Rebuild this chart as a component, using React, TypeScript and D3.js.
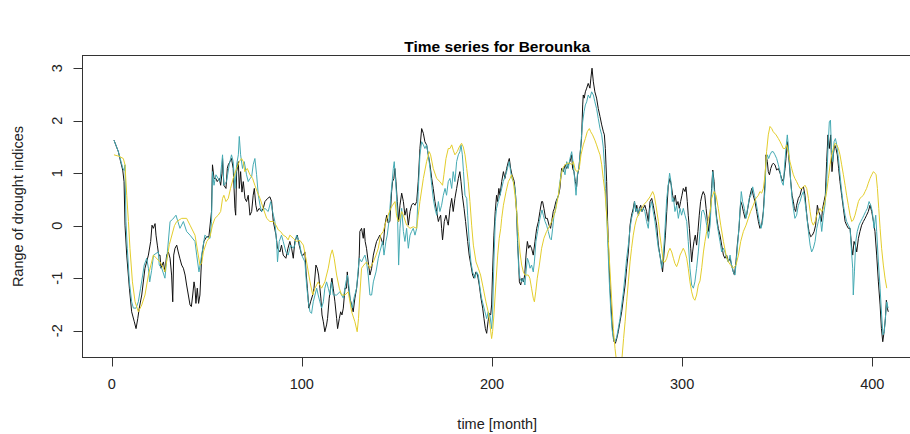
import React from "react";
import * as d3 from "d3";

const TITLE = "Time series for Berounka";
const X_LABEL = "time [month]";
const Y_LABEL = "Range of drought indices";
const X_TICKS = [0, 100, 200, 300, 400];
const Y_TICKS = [-2, -1, 0, 1, 2, 3];

// [month, index value]
const blackSeries: [number, number][] = [
  [1.2, 1.63], [3.5, 1.41], [4.7, 1.22], [5.8, 1.06], [6.5, 0.84], [7.0, 0.01], [7.9, -0.56], [9.3, -1.19],
  [10.5, -1.64], [11.9, -1.83], [12.8, -1.96], [13.7, -1.77], [14.5, -1.57], [15.8, -1.32], [17.5, -0.81],
  [19.3, -0.56], [20.5, -0.3], [21.2, 0.01], [21.9, -0.05], [22.8, 0.04], [23.3, -0.18], [24.0, -0.37],
  [24.7, -0.56], [25.4, -0.56], [25.9, -0.81], [27.2, -0.69], [28.0, -0.88], [28.9, -0.56], [29.8, -0.5],
  [30.7, -0.62], [31.5, -0.94], [32.1, -1.45], [32.6, -0.56], [33.3, -0.43], [34.2, -0.37], [35.0, -0.5],
  [35.9, -0.63], [36.8, -0.75], [37.7, -0.81], [38.6, -0.94], [39.4, -1.13], [40.3, -1.32], [41.2, -1.51],
  [41.9, -1.54], [42.6, -1.32], [43.3, -1.07], [43.8, -1.19], [44.3, -1.48], [45.0, -1.19], [45.7, -1.48],
  [46.4, -1.32], [47.3, -0.6], [48.5, -0.3], [49.9, -0.21], [51.1, -0.21], [52.5, 0.27], [53.0, 1.16],
  [53.8, 0.9], [54.8, 0.9], [55.5, 0.84], [56.6, 0.9], [57.3, 0.77], [58.0, 1.0], [58.3, 1.28], [59.0, 0.77],
  [60.1, 0.71], [60.8, 1.09], [61.3, 1.16], [62.2, 1.22], [63.0, 1.28], [63.9, 1.09], [64.8, 0.33],
  [65.2, 0.2], [65.7, 1.03], [66.6, 1.22], [67.1, 0.71], [67.8, 1.03], [68.5, 0.64], [69.2, 0.84],
  [70.1, 0.52], [70.9, 0.46], [71.8, 0.58], [72.7, 0.2], [73.6, 0.27], [74.4, 0.58], [75.0, 0.71],
  [75.8, 0.39], [76.5, 0.27], [77.6, 0.33], [78.8, 0.27], [79.7, 0.33], [80.6, 0.46], [82.0, 0.52],
  [83.2, 0.55], [84.1, 0.46], [85.0, 0.08], [86.4, -0.18], [87.2, -0.43], [88.5, -0.5], [89.3, -0.37],
  [90.2, -0.56], [91.6, -0.62], [92.7, -0.43], [93.7, -0.3], [94.6, -0.43], [95.5, -0.62], [96.3, -0.3],
  [97.6, -0.18], [98.6, -0.37], [99.9, -0.56], [100.8, -0.56], [101.6, -0.5], [102.2, -0.88], [102.9, -1.19],
  [103.7, -1.57], [104.6, -1.45], [105.7, -1.32], [106.4, -1.19], [107.4, -0.75], [108.1, -0.81],
  [108.8, -0.94], [109.5, -1.19], [110.0, -1.38], [110.6, -1.7], [111.3, -1.83], [112.1, -2.02],
  [113.0, -1.89], [113.5, -1.77], [114.4, -1.38], [115.1, -1.19], [115.8, -1.0], [116.5, -1.19],
  [117.4, -1.45], [118.3, -1.77], [118.8, -1.96], [119.7, -1.77], [120.4, -1.64], [121.1, -1.7],
  [121.8, -1.57], [122.7, -1.19], [123.5, -1.19], [123.9, -0.88], [124.6, -1.19], [125.3, -1.38],
  [126.2, -1.51], [127.0, -1.64], [127.9, -1.38], [128.8, -1.19], [129.7, -0.88], [130.2, -0.56],
  [130.5, -0.11], [131.4, -0.05], [132.3, -0.24], [132.8, -0.05], [133.3, -0.3], [134.0, -0.43],
  [134.9, -0.69], [135.8, -0.94], [136.7, -0.81], [137.6, -0.56], [138.4, -0.43], [139.3, -0.3],
  [140.2, -0.24], [141.0, -0.18], [141.9, -0.27], [142.8, -0.37], [143.7, 0.01], [144.6, 0.2],
  [145.4, 0.05], [146.3, 0.08], [147.2, 0.65], [147.7, 0.84], [148.4, 0.9], [148.9, 1.09], [149.5, 0.84],
  [150.2, 0.46], [150.9, 0.08], [151.6, 0.39], [152.5, 0.62], [153.4, 0.46], [154.2, 0.2], [155.1, 0.33],
  [156.0, 0.01], [156.9, 0.27], [157.7, 0.39], [158.6, 0.43], [159.5, 0.39], [160.4, 0.46], [161.2, 0.84],
  [162.1, 1.47], [163.0, 1.85], [163.9, 1.76], [164.7, 1.6], [165.6, 1.54], [166.5, 1.35], [167.4, 1.16],
  [168.3, 0.9], [169.1, 0.71], [170.0, 0.46], [170.9, 0.27], [171.8, 0.08], [172.3, 0.14], [173.0, 0.2],
  [173.5, -0.05], [174.0, -0.27], [174.9, 0.08], [175.8, 0.2], [176.5, 0.08], [177.0, 0.01], [177.9, 0.33],
  [178.8, 0.52], [179.6, 0.27], [180.5, 0.52], [181.4, 0.71], [182.3, 0.9], [183.1, 1.03], [183.7, 0.84],
  [184.4, 0.58], [185.3, 0.33], [186.1, 0.08], [187.2, -0.3], [188.0, -0.56], [188.9, -0.75], [189.8, -0.94],
  [190.5, -1.0], [191.6, -0.88], [192.4, -0.94], [193.3, -1.13], [194.2, -1.38], [195.1, -1.57],
  [195.8, -1.77], [196.5, -1.96], [197.2, -2.05], [197.9, -1.83], [198.6, -1.67], [199.3, -1.7],
  [199.8, -1.51], [200.3, -0.88], [201.0, -0.18], [201.7, 0.27], [202.4, 0.58], [202.9, 0.46], [203.6, 0.71],
  [204.2, 0.58], [205.1, 0.84], [206.0, 1.03], [206.8, 0.9], [207.7, 1.09], [208.6, 1.22], [209.1, 1.28],
  [209.8, 1.09], [210.5, 0.97], [211.2, 0.9], [211.7, 0.84], [212.4, 0.58], [213.0, 0.2], [213.5, -0.37],
  [214.0, -0.69], [214.4, -1.07], [215.1, -1.13], [215.8, -1.0], [216.5, -1.07], [217.2, -0.94],
  [217.9, -0.56], [218.6, -0.3], [219.3, -0.43], [220.0, -0.37], [220.8, -0.43], [221.7, -0.56],
  [222.6, -0.3], [223.5, -0.05], [224.4, 0.08], [225.2, 0.27], [226.1, 0.46], [226.6, 0.46], [227.3, 0.33],
  [228.2, 0.14], [229.1, 0.14], [230.0, 0.01], [230.8, -0.05], [231.4, 0.08], [232.2, 0.27], [232.8, 0.33],
  [233.6, 0.46], [234.3, 0.52], [235.0, 0.58], [235.7, 0.71], [236.6, 1.09], [237.5, 1.03], [238.4, 1.16],
  [239.3, 1.09], [240.1, 1.16], [241.0, 1.22], [241.9, 1.35], [242.4, 1.09], [243.1, 1.03], [243.8, 0.84],
  [244.5, 0.74], [245.0, 0.97], [245.7, 1.09], [246.3, 1.35], [247.1, 1.66], [247.7, 2.3], [248.0, 2.49],
  [248.5, 2.43], [249.1, 2.55], [249.8, 2.62], [250.6, 2.71], [251.5, 2.62], [252.0, 2.81], [252.6, 3.0],
  [253.3, 2.74], [254.1, 2.55], [255.0, 2.43], [255.9, 2.23], [256.8, 2.08], [257.7, 1.92], [258.5, 1.8],
  [259.1, 1.73], [259.6, 1.47], [260.3, 0.84], [260.8, 0.08], [261.4, -0.56], [262.1, -1.19], [262.9, -1.7],
  [263.5, -2.02], [264.2, -2.21], [264.9, -2.24], [265.6, -2.15], [266.4, -2.02], [267.3, -1.83],
  [268.2, -1.64], [269.1, -1.38], [270.0, -1.13], [270.8, -0.81], [271.7, -0.5], [272.6, 0.01], [273.4, 0.2],
  [274.3, 0.33], [274.9, 0.46], [275.6, 0.27], [276.1, 0.39], [277.0, 0.2], [277.5, 0.33], [278.2, 0.39],
  [278.9, 0.27], [279.6, 0.33], [280.4, 0.39], [281.3, 0.27], [282.2, 0.08], [283.1, 0.46], [284.0, 0.52],
  [284.8, 0.39], [285.7, 0.2], [286.6, 0.01], [287.5, -0.37], [288.3, -0.56], [289.2, -0.75], [289.7, -0.88],
  [290.4, -0.56], [291.2, -0.18], [291.9, 0.27], [292.7, 0.77], [293.6, 0.9], [294.3, 0.77], [295.0, 0.58],
  [295.7, 0.46], [296.4, 0.58], [297.1, 0.39], [297.8, 0.46], [298.5, 0.33], [299.2, 0.46], [299.9, 0.58],
  [300.6, 0.71], [301.5, 0.65], [302.0, 0.74], [302.7, 0.46], [303.2, 0.2], [303.8, -0.05], [304.5, -0.43],
  [305.0, -0.69], [305.5, -0.5], [306.2, -0.3], [306.9, -0.18], [307.6, -0.37], [308.3, -0.11], [309.0, 0.2],
  [309.7, 0.46], [310.4, 0.58], [311.1, 0.65], [311.9, 0.58], [312.6, 0.33], [313.3, 0.08], [314.0, -0.11],
  [314.7, 0.2], [315.5, 0.71], [316.1, 1.06], [316.8, 0.84], [317.5, 0.39], [318.2, 0.14], [319.0, -0.05],
  [319.9, -0.18], [320.8, -0.37], [321.7, -0.56], [322.5, -0.62], [323.4, -0.56], [324.3, -0.69],
  [325.2, -0.62], [326.0, -0.75], [326.9, -0.88], [327.5, -0.94], [328.3, -0.69], [329.0, -0.37],
  [329.9, -0.05], [330.8, 0.46], [331.5, 0.39], [332.2, 0.27], [333.1, 0.14], [333.9, 0.2], [334.8, 0.39],
  [335.7, 0.58], [336.6, 0.71], [337.4, 0.58], [338.3, 0.46], [339.2, 0.27], [340.1, 0.08], [340.9, -0.05],
  [341.8, 0.01], [342.7, 0.27], [343.6, 0.84], [344.1, 1.35], [344.8, 1.22], [345.3, 1.03], [345.9, 0.97],
  [346.6, 1.09], [347.3, 1.16], [347.9, 1.19], [348.8, 1.16], [349.7, 1.06], [350.6, 1.09], [351.5, 1.0],
  [352.3, 0.9], [353.2, 0.84], [354.1, 1.09], [354.6, 1.28], [355.3, 1.6], [355.8, 1.41], [356.4, 1.16],
  [357.1, 0.84], [357.8, 0.58], [358.5, 0.46], [359.0, 0.33], [359.7, 0.27], [360.2, 0.39], [361.1, 0.52],
  [362.0, 0.58], [362.9, 0.71], [363.8, 0.74], [364.6, 0.58], [365.2, 0.33], [365.9, 0.08], [366.7, -0.11],
  [367.6, -0.21], [368.5, -0.18], [369.4, -0.11], [370.2, 0.01], [371.1, 0.39], [371.8, 0.27], [372.5, 0.2],
  [373.2, 0.08], [373.9, 0.33], [374.6, 0.46], [375.3, 0.58], [376.0, 1.22], [376.7, 1.73], [377.4, 1.47],
  [378.1, 1.73], [378.8, 1.03], [379.5, 1.35], [380.2, 1.54], [380.9, 1.47], [381.6, 1.35], [382.3, 1.09],
  [383.0, 0.84], [383.9, 0.58], [384.8, 0.33], [385.7, 0.08], [386.5, 0.01], [387.4, -0.05], [388.3, -0.05],
  [389.2, -0.43], [389.7, -0.56], [390.4, -0.3], [391.1, -0.37], [391.8, -0.5], [392.7, -0.24], [393.5, -0.11],
  [394.4, 0.01], [395.3, 0.08], [396.2, 0.14], [397.0, 0.2], [397.9, 0.27], [398.8, 0.39], [399.7, 0.27],
  [400.6, 0.08], [401.4, -0.11], [402.3, -0.56], [403.2, -1.07], [404.1, -1.51], [404.8, -1.96],
  [405.5, -2.21], [406.2, -2.02], [406.9, -1.77], [407.4, -1.42], [407.9, -1.57], [408.4, -1.64],
];

const tealSeries: [number, number][] = [
  [1.2, 1.63], [3.5, 1.41], [4.7, 1.25], [5.8, 1.1], [6.5, 1.05], [7.0, 1.16], [7.5, 0.08], [8.2, -0.43],
  [9.3, -1.07], [10.5, -1.45], [11.4, -1.57], [12.8, -1.57], [14.0, -1.45], [15.2, -1.19], [16.3, -0.94],
  [17.1, -0.75], [18.4, -0.62], [19.3, -0.81], [20.0, -1.07], [21.0, -0.85], [22.0, -0.56], [24.5, -0.5],
  [25.0, -0.75], [26.3, -0.81], [28.0, -1.0], [29.3, -0.5], [30.7, 0.08], [32.0, 0.12], [33.8, 0.2],
  [35.9, -0.05], [37.7, 0.08], [39.4, -0.11], [41.2, -0.18], [43.8, -0.3], [44.7, -0.56], [45.9, -0.88],
  [47.3, -0.56], [49.0, -0.18], [49.9, -0.21], [51.7, -0.24], [52.5, 0.08], [53.0, 1.03], [53.8, 0.77],
  [54.8, 0.97], [56.0, 0.9], [56.9, 0.84], [57.8, 1.16], [58.3, 1.35], [59.0, 0.77], [60.4, 0.84],
  [61.8, 1.16], [63.0, 1.35], [63.9, 1.22], [64.8, 0.71], [65.7, 1.16], [66.6, 1.35], [67.1, 1.7],
  [67.8, 1.35], [68.8, 1.09], [69.7, 1.22], [70.9, 0.97], [71.8, 0.84], [72.7, 0.9], [73.6, 0.93],
  [74.4, 1.16], [75.3, 1.28], [76.2, 0.97], [77.1, 0.58], [78.0, 0.39], [78.8, 0.27], [80.6, 0.33],
  [82.3, 0.27], [83.6, 0.46], [84.6, 0.27], [85.8, 0.08], [86.7, -0.3], [87.2, -0.69], [88.1, -0.3],
  [89.3, -0.18], [90.2, -0.3], [91.6, -0.5], [92.8, -0.56], [94.1, -0.37], [95.5, -0.43], [96.3, -0.37],
  [97.2, -0.18], [98.6, -0.3], [99.9, -0.56], [101.6, -0.69], [102.5, -1.13], [103.4, -1.45], [104.3, -1.64],
  [105.1, -1.67], [106.0, -1.45], [106.9, -1.32], [107.8, -1.19], [108.6, -1.32], [109.5, -1.45],
  [110.4, -1.57], [111.3, -1.45], [112.1, -1.19], [113.0, -1.07], [113.9, -1.19], [114.8, -1.32],
  [115.6, -1.07], [116.5, -1.32], [118.3, -1.32], [120.0, -1.26], [121.8, -1.38], [123.2, -1.07],
  [124.0, -0.94], [124.9, -1.19], [125.6, -1.45], [126.5, -1.57], [127.4, -1.38], [128.8, -1.19],
  [129.7, -0.81], [130.2, -0.62], [131.4, -0.69], [132.3, -0.62], [133.2, -0.56], [134.0, -0.69],
  [134.9, -0.94], [135.8, -1.32], [136.7, -1.32], [137.6, -1.07], [139.0, -0.88], [140.2, -0.62],
  [141.0, -0.5], [142.5, -0.3], [143.2, -0.56], [144.2, -0.3], [144.9, -0.18], [145.8, 0.08], [146.7, 0.52],
  [147.5, 0.84], [148.1, 1.09], [148.6, 1.22], [149.3, 0.84], [149.8, 0.58], [150.4, 0.08], [150.9, -0.75],
  [151.6, -0.05], [152.5, 0.33], [153.4, -0.11], [154.2, -0.3], [155.1, -0.05], [156.0, -0.43],
  [156.9, -0.18], [157.7, -0.11], [158.6, -0.05], [159.5, -0.18], [160.4, -0.05], [161.2, 0.65],
  [162.1, 1.35], [163.0, 1.6], [163.9, 1.54], [164.7, 1.47], [165.6, 1.54], [166.5, 1.35], [167.4, 1.09],
  [168.3, 0.77], [169.1, 0.52], [170.0, 0.33], [170.9, 0.2], [171.8, 0.46], [172.6, 0.27], [173.5, 0.39],
  [174.4, 0.58], [175.3, 0.71], [176.1, 0.58], [177.0, 0.84], [177.9, 0.9], [178.8, 0.71], [179.6, 1.03],
  [180.5, 0.84], [181.4, 1.22], [182.3, 1.35], [183.1, 1.41], [183.7, 1.54], [184.4, 1.35], [185.0, 1.03],
  [185.8, 0.58], [186.7, 0.52], [187.2, 0.2], [188.0, -0.3], [188.9, -0.69], [189.8, -0.88], [191.0, -1.0],
  [191.9, -0.88], [192.8, -0.94], [193.7, -1.19], [194.5, -1.38], [195.4, -1.51], [196.3, -1.64],
  [197.2, -1.77], [198.0, -1.64], [198.9, -1.7], [199.8, -1.96], [200.3, -1.7], [201.0, -0.69], [201.7, 0.08],
  [202.4, 0.33], [203.3, 0.46], [204.2, 0.58], [205.1, 0.71], [205.9, 0.84], [206.8, 0.93], [207.7, 1.03],
  [208.6, 1.16], [209.1, 1.22], [209.8, 1.03], [210.5, 0.9], [211.2, 0.84], [212.1, 0.71], [213.0, 0.27],
  [213.5, -0.3], [214.0, -0.81], [214.7, -1.0], [215.6, -1.07], [216.5, -1.0], [217.3, -1.13], [217.9, -0.88],
  [218.6, -0.62], [219.3, -0.69], [220.0, -0.81], [220.8, -0.75], [221.7, -0.88], [222.3, -0.69],
  [223.1, -0.3], [224.0, -0.11], [224.9, 0.08], [225.6, 0.2], [226.3, 0.3], [227.0, 0.2], [227.9, 0.08],
  [228.7, 0.01], [229.6, -0.11], [230.5, -0.24], [231.2, -0.27], [231.9, -0.05], [232.6, 0.2], [233.3, 0.27],
  [234.0, 0.46], [234.9, 0.58], [235.7, 0.84], [236.6, 1.03], [237.5, 1.09], [238.4, 0.97], [239.3, 1.22],
  [240.1, 1.09], [241.0, 1.28], [241.9, 1.41], [242.8, 1.16], [243.6, 0.84], [244.2, 0.58], [244.9, 0.97],
  [245.7, 1.09], [246.3, 1.35], [247.1, 1.73], [247.7, 1.98], [248.4, 2.17], [249.1, 2.3], [249.8, 2.36],
  [250.6, 2.49], [251.5, 2.43], [252.4, 2.55], [253.3, 2.49], [254.1, 2.36], [255.0, 2.23], [255.9, 2.04],
  [256.8, 1.85], [257.7, 1.73], [258.5, 1.5], [259.1, 1.16], [259.6, 0.71], [260.3, 0.2], [261.0, -0.43],
  [261.7, -1.07], [262.4, -1.57], [263.1, -1.96], [263.8, -2.15], [264.7, -2.21], [265.6, -2.12],
  [266.4, -1.96], [267.3, -1.77], [268.2, -1.51], [269.1, -1.26], [270.0, -0.94], [270.8, -0.62],
  [271.7, -0.37], [272.6, -0.05], [273.4, 0.14], [274.3, 0.27], [275.0, 0.46], [275.7, 0.27], [276.4, 0.33],
  [277.1, 0.2], [277.8, 0.33], [278.7, 0.27], [279.6, 0.33], [280.4, 0.27], [281.3, 0.08], [282.2, -0.05],
  [283.1, 0.33], [284.0, 0.46], [284.8, 0.27], [285.7, 0.08], [286.6, -0.18], [287.5, -0.43], [288.3, -0.56],
  [289.2, -0.81], [290.1, -0.56], [291.0, -0.05], [291.9, 0.52], [292.7, 0.77], [293.4, 1.0], [294.1, 0.84],
  [294.8, 0.46], [295.5, 0.52], [296.2, 0.27], [297.1, 0.39], [298.0, 0.14], [298.9, 0.33], [299.7, 0.2],
  [300.6, 0.33], [301.5, 0.2], [302.4, 0.08], [303.2, -0.3], [304.1, -0.81], [305.0, -1.13], [305.9, -1.19],
  [306.7, -1.07], [307.6, -0.81], [308.5, -0.5], [309.4, -0.11], [310.3, 0.27], [311.1, 0.3], [312.0, 0.2],
  [312.9, 0.01], [313.8, -0.24], [314.7, 0.01], [315.5, 0.58], [316.1, 1.03], [316.8, 0.71], [317.5, 0.33],
  [318.2, 0.08], [319.0, -0.11], [319.9, -0.3], [320.8, -0.5], [321.7, -0.43], [322.5, -0.5], [323.4, -0.62],
  [324.3, -0.69], [325.2, -0.56], [326.0, -0.75], [326.9, -0.88], [327.8, -0.94], [328.7, -0.56],
  [329.6, -0.18], [330.4, 0.27], [331.1, 0.65], [331.8, 0.46], [332.7, 0.33], [333.6, 0.14], [334.4, 0.33],
  [335.3, 0.52], [336.2, 0.58], [337.1, 0.74], [338.0, 0.58], [338.8, 0.46], [339.7, 0.27], [340.6, 0.08],
  [341.5, -0.05], [342.3, 0.08], [343.0, 0.39], [343.6, 0.71], [344.1, 1.22], [344.8, 1.35], [345.5, 1.28],
  [346.2, 1.35], [347.1, 1.41], [347.9, 1.41], [348.8, 1.35], [349.7, 1.28], [350.6, 1.16], [351.5, 1.03],
  [352.3, 0.84], [353.2, 0.77], [353.9, 1.16], [354.6, 1.47], [355.3, 1.73], [355.8, 1.54], [356.4, 1.22],
  [357.1, 0.84], [357.8, 0.52], [358.5, 0.33], [359.3, 0.14], [360.2, 0.2], [361.1, 0.39], [362.0, 0.46],
  [362.9, 0.58], [363.8, 0.65], [364.6, 0.46], [365.5, 0.2], [366.4, -0.11], [367.3, -0.37], [368.1, -0.5],
  [369.0, -0.43], [369.9, -0.3], [370.8, -0.05], [371.6, 0.08], [372.5, 0.2], [373.4, -0.11], [374.3, 0.2],
  [375.1, 0.39], [376.0, 0.84], [376.7, 1.47], [377.4, 1.98], [378.0, 2.01], [378.5, 1.47], [379.2, 1.22],
  [379.9, 1.6], [380.6, 1.66], [381.3, 1.54], [382.2, 1.28], [383.0, 0.97], [383.9, 0.65], [384.8, 0.39],
  [385.7, 0.2], [386.5, 0.08], [387.4, 0.01], [388.3, -0.05], [389.2, -0.56], [389.7, -0.81], [390.0, -1.32],
  [390.6, -0.88], [391.3, -0.3], [392.1, -0.11], [393.0, 0.01], [393.9, 0.08], [394.8, 0.14], [395.6, 0.2],
  [396.5, 0.27], [397.4, 0.33], [398.3, 0.46], [399.2, 0.39], [400.0, 0.27], [400.9, -0.05], [401.8, 0.2],
  [402.3, -0.11], [403.2, -0.69], [404.1, -1.19], [404.9, -1.7], [405.6, -2.08], [406.3, -2.02],
  [407.0, -1.7], [407.6, -1.45], [408.3, -1.57],
];

const yellowSeries: [number, number][] = [
  [1.2, 1.35], [4.0, 1.32], [6.1, 1.28], [7.0, 1.16], [7.9, 0.58], [8.8, 0.08], [9.6, -0.43], [10.9, -1.07],
  [12.3, -1.45], [14.0, -1.64], [15.8, -1.51], [17.5, -1.32], [19.3, -0.94], [21.9, -0.56], [23.6, -0.62],
  [25.4, -0.69], [27.2, -0.81], [28.0, -0.88], [30.3, -0.36], [33.0, 0.0], [34.2, 0.08], [36.8, 0.14],
  [39.4, 0.14], [41.2, 0.01], [43.8, -0.18], [46.4, -0.75], [47.3, -0.72], [48.2, -0.5], [50.0, -0.3],
  [51.7, -0.21], [53.0, 0.01], [54.3, 0.14], [56.0, 0.2], [57.3, 0.27], [58.3, 0.52], [59.0, 0.58],
  [60.1, 0.46], [61.3, 0.52], [62.5, 0.71], [63.9, 0.9], [65.7, 1.09], [67.1, 1.22], [68.3, 1.28],
  [69.2, 1.22], [70.0, 1.03], [71.3, 1.09], [72.7, 0.97], [74.1, 0.9], [75.3, 0.77], [76.5, 0.65],
  [78.0, 0.52], [79.7, 0.33], [81.5, 0.14], [83.2, 0.08], [85.0, 0.08], [86.4, 0.01], [87.6, -0.08],
  [88.8, -0.11], [90.2, -0.18], [91.6, -0.21], [92.8, -0.27], [93.7, -0.18], [95.5, -0.24], [97.2, -0.3],
  [99.0, -0.28], [100.8, -0.37], [102.5, -0.69], [104.3, -1.07], [105.7, -1.32], [106.9, -1.19],
  [108.6, -1.07], [110.4, -1.19], [112.1, -1.07], [113.9, -0.81], [115.1, -0.56], [116.0, -0.46],
  [117.0, -0.62], [118.3, -0.94], [119.7, -1.19], [120.9, -1.32], [122.7, -1.32], [124.4, -1.26],
  [126.2, -1.64], [127.9, -1.83], [129.1, -2.02], [129.8, -1.77], [130.5, -1.32], [131.4, -0.81],
  [132.6, -0.75], [134.0, -0.69], [135.8, -0.81], [137.6, -0.69], [139.0, -0.56], [140.2, -0.43],
  [141.4, -0.18], [142.8, -0.11], [144.2, 0.08], [145.4, 0.2], [146.7, 0.33], [147.7, 0.39], [149.0, 0.46],
  [149.8, 0.2], [150.7, 0.08], [151.6, 0.14], [152.5, 0.27], [153.4, 0.2], [155.1, 0.01], [156.9, -0.05],
  [158.6, -0.02], [160.4, -0.05], [161.2, 0.2], [162.1, 0.46], [163.9, 0.9], [165.6, 1.22], [167.0, 1.41],
  [167.7, 1.35], [169.1, 1.09], [170.9, 0.9], [172.6, 0.84], [174.0, 0.77], [174.7, 0.97], [175.8, 1.28],
  [177.0, 1.47], [177.9, 1.47], [178.8, 1.54], [179.6, 1.44], [180.5, 1.35], [181.7, 1.41], [182.8, 1.5],
  [184.0, 1.57], [184.9, 1.5], [185.8, 1.35], [186.7, 1.09], [187.5, 0.84], [188.4, 0.46], [189.3, 0.01],
  [190.2, -0.37], [191.6, -0.69], [192.8, -0.81], [194.0, -0.94], [195.4, -1.19], [196.8, -1.45],
  [198.0, -1.64], [198.9, -1.89], [199.8, -2.15], [200.3, -2.02], [201.0, -1.7], [202.1, -1.07],
  [203.0, -0.56], [203.8, -0.24], [204.6, -0.05], [205.1, 0.14], [206.0, 0.39], [207.4, 0.65], [208.6, 0.84],
  [209.5, 0.9], [210.3, 0.97], [211.2, 0.84], [212.1, 0.58], [213.0, 0.27], [213.8, -0.11], [214.7, -0.5],
  [215.6, -0.75], [216.5, -0.88], [217.3, -0.94], [218.2, -0.94], [219.1, -0.94], [219.9, -1.0],
  [220.8, -1.19], [221.7, -1.38], [222.3, -1.45], [223.0, -1.26], [223.8, -1.0], [224.9, -0.75],
  [226.1, -0.43], [227.3, -0.24], [228.7, -0.11], [230.1, -0.02], [231.4, 0.08], [232.6, 0.2], [233.6, 0.33],
  [234.9, 0.58], [236.1, 0.9], [237.1, 1.09], [238.4, 1.16], [239.6, 1.19], [241.0, 1.19], [241.9, 1.16],
  [242.8, 1.22], [243.8, 1.06], [244.9, 1.03], [245.9, 1.09], [246.8, 1.35], [248.0, 1.54], [249.1, 1.66],
  [250.1, 1.79], [251.2, 1.85], [251.9, 1.79], [252.9, 1.73], [254.1, 1.63], [255.0, 1.54], [255.9, 1.44],
  [256.8, 1.35], [257.7, 1.16], [258.5, 0.9], [259.4, 0.65], [260.3, 0.2], [261.2, -0.3], [262.1, -0.88],
  [263.0, -1.45], [263.8, -1.96], [264.7, -2.34], [265.6, -2.62], [266.6, -2.8], [267.5, -2.75],
  [268.4, -2.5], [269.2, -2.15], [270.0, -1.83], [270.8, -1.45], [271.7, -1.07], [272.6, -0.69],
  [273.4, -0.43], [274.3, -0.18], [275.2, 0.01], [276.1, 0.14], [277.8, 0.27], [279.6, 0.39], [281.3, 0.46],
  [283.1, 0.55], [284.5, 0.65], [285.3, 0.58], [286.2, 0.39], [287.5, 0.08], [288.3, -0.18], [289.2, -0.43],
  [290.1, -0.69], [291.0, -0.69], [291.9, -0.62], [292.7, -0.5], [293.6, -0.43], [294.5, -0.5],
  [295.4, -0.62], [296.2, -0.72], [297.1, -0.78], [298.0, -0.69], [298.9, -0.56], [299.7, -0.5],
  [300.6, -0.43], [301.5, -0.5], [302.4, -0.62], [303.2, -0.81], [304.1, -1.07], [305.0, -1.26],
  [305.9, -1.38], [306.7, -1.42], [307.6, -1.32], [308.5, -1.13], [309.4, -1.05], [310.3, -0.8],
  [311.2, -0.5], [312.0, -0.3], [312.9, -0.11], [313.8, 0.14], [314.7, 0.27], [315.5, 0.52], [316.8, 0.65],
  [317.8, 0.58], [319.0, 0.33], [320.3, 0.01], [321.7, -0.3], [323.1, -0.56], [324.3, -0.69], [325.5, -0.75],
  [326.9, -0.81], [328.3, -0.75], [329.6, -0.56], [330.8, -0.3], [332.2, -0.11], [333.6, 0.01], [334.8, 0.14],
  [336.0, 0.27], [337.4, 0.39], [338.8, 0.52], [340.1, 0.58], [340.9, 0.65], [341.8, 0.62], [342.7, 0.71],
  [343.6, 0.97], [344.4, 1.41], [345.3, 1.73], [346.2, 1.89], [347.1, 1.85], [347.9, 1.79], [349.4, 1.73],
  [350.6, 1.66], [351.5, 1.6], [352.3, 1.54], [353.2, 1.47], [354.1, 1.47], [355.0, 1.54], [355.8, 1.41],
  [356.7, 1.22], [357.6, 1.09], [358.5, 0.97], [359.3, 0.9], [360.2, 0.84], [361.1, 0.77], [362.0, 0.71],
  [362.9, 0.71], [363.8, 0.74], [364.6, 0.77], [365.5, 0.71], [366.4, 0.52], [367.3, 0.27], [368.1, 0.08],
  [369.0, 0.01], [369.9, 0.08], [370.8, 0.2], [371.6, 0.27], [372.5, 0.33], [373.4, 0.27], [374.3, 0.33],
  [375.1, 0.46], [376.0, 0.65], [376.9, 0.9], [377.8, 1.16], [378.6, 1.35], [379.5, 1.47], [380.4, 1.57],
  [381.3, 1.54], [382.2, 1.47], [383.0, 1.35], [383.9, 1.16], [384.8, 0.97], [385.7, 0.77], [386.5, 0.58],
  [387.4, 0.39], [388.3, 0.2], [389.2, 0.08], [390.0, 0.11], [390.9, 0.2], [391.8, 0.33], [392.7, 0.46],
  [393.5, 0.52], [394.4, 0.55], [395.3, 0.58], [396.2, 0.65], [397.0, 0.71], [397.9, 0.81], [398.8, 0.9],
  [399.7, 0.97], [400.6, 1.03], [401.4, 1.0], [402.0, 0.97], [402.7, 0.71], [403.4, 0.33], [404.1, -0.05],
  [404.9, -0.43], [405.8, -0.75], [406.7, -1.0], [407.6, -1.19],
];

const SERIES = [
  { name: "black", points: blackSeries, color: "#111111" },
  { name: "teal", points: tealSeries, color: "#45aab3" },
  { name: "yellow", points: yellowSeries, color: "#e3cd2c" },
];

const W = 910;
const H = 434;
const BOX = { left: 82.5, top: 55.5, right: 912, bottom: 357.5 };
const FONT = "'Liberation Sans', Arial, Helvetica, sans-serif";

export default function App() {
  const x = d3.scaleLinear().domain([0, 400]).range([111.7, 872.3]);
  const y = d3.scaleLinear().domain([-2, 3]).range([330.7, 68.2]);
  const line = d3
    .line<[number, number]>()
    .x((d) => x(d[0]))
    .y((d) => y(d[1]));

  return (
    <svg
      width={W}
      height={H}
      viewBox={`0 0 ${W} ${H}`}
      style={{ position: "absolute", left: 0, top: 0, background: "#fff" }}
    >
      <defs>
        <clipPath id="plot-clip">
          <rect
            x={BOX.left}
            y={BOX.top}
            width={BOX.right - BOX.left}
            height={BOX.bottom - BOX.top}
          />
        </clipPath>
      </defs>
      <rect width={W} height={H} fill="#fff" />

      <text
        x={(BOX.left + BOX.right) / 2}
        y={52}
        textAnchor="middle"
        fontFamily={FONT}
        fontWeight="bold"
        fontSize={15.5}
        fill="#000"
      >
        {TITLE}
      </text>

      <g clipPath="url(#plot-clip)" fill="none" strokeWidth={1} strokeLinejoin="round">
        {SERIES.map((s) => (
          <path key={s.name} d={line(s.points) ?? ""} stroke={s.color} />
        ))}
      </g>

      <rect
        x={BOX.left}
        y={BOX.top}
        width={BOX.right - BOX.left}
        height={BOX.bottom - BOX.top}
        fill="none"
        stroke="#333"
        strokeWidth={1}
      />

      {X_TICKS.map((t) => (
        <g key={`x${t}`}>
          <line
            x1={Math.round(x(t)) + 0.5}
            x2={Math.round(x(t)) + 0.5}
            y1={BOX.bottom}
            y2={BOX.bottom + 9}
            stroke="#333"
          />
          <text
            x={x(t)}
            y={388.5}
            textAnchor="middle"
            fontFamily={FONT}
            fontSize={14.5}
            fill="#222"
          >
            {t}
          </text>
        </g>
      ))}

      {Y_TICKS.map((t) => (
        <g key={`y${t}`}>
          <line
            x1={BOX.left - 9}
            x2={BOX.left}
            y1={Math.round(y(t)) + 0.5}
            y2={Math.round(y(t)) + 0.5}
            stroke="#333"
          />
          <text
            transform={`translate(61.5, ${y(t)}) rotate(-90)`}
            textAnchor="middle"
            fontFamily={FONT}
            fontSize={14.5}
            fill="#222"
          >
            {t}
          </text>
        </g>
      ))}

      <text
        x={(BOX.left + BOX.right) / 2}
        y={429}
        textAnchor="middle"
        fontFamily={FONT}
        fontSize={14.5}
        fill="#222"
      >
        {X_LABEL}
      </text>
      <text
        transform={`translate(22.5, ${(BOX.top + BOX.bottom) / 2}) rotate(-90)`}
        textAnchor="middle"
        fontFamily={FONT}
        fontSize={14.5}
        fill="#222"
      >
        {Y_LABEL}
      </text>
    </svg>
  );
}
